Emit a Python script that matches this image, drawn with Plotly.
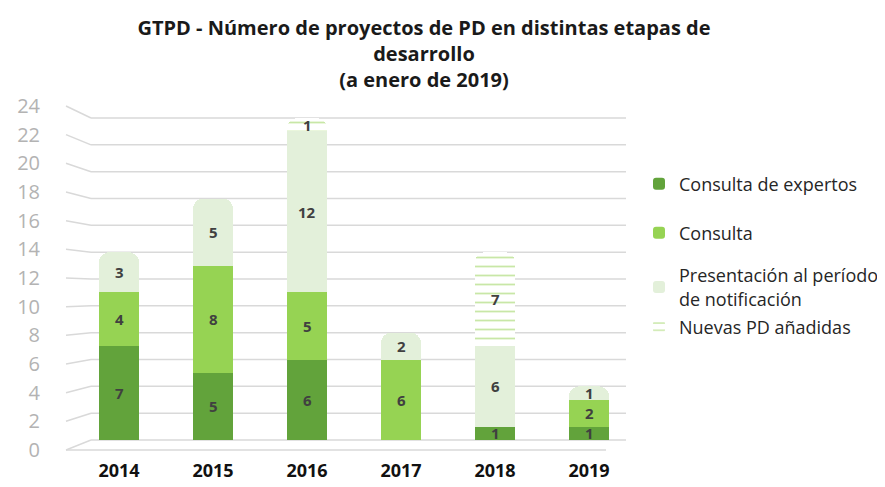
import plotly.graph_objects as go

years = ["2014", "2015", "2016", "2017", "2018", "2019"]
series_names = [
    "Consulta de expertos",
    "Consulta",
    "Presentación al período<br>de notificación",
    "Nuevas PD añadidas",
]
consulta_expertos = [7, 5, 6, 0, 1, 1]
consulta = [4, 8, 5, 6, 0, 2]
presentacion = [3, 5, 12, 2, 6, 1]
nuevas_pd = [0, 0, 1, 0, 7, 0]
y_ticks = list(range(0, 25, 2))

title_text = ("GTPD - Número de proyectos de PD en distintas etapas de<br>"
              "desarrollo<br>(a enero de 2019)")

values = [consulta_expertos, consulta, presentacion, nuevas_pd]
colors = ["#62A33B", "#96D353", "#E3F0DA", "#FFFFFF"]

W, H = 885, 487
L, R, T, B = 58, 250, 98, 45
plot_w = W - L - R
plot_h = H - T - B
# bars sit on the "back wall" which is slightly compressed in the 3D look
bar_dom = [10 / plot_h, (plot_h - 12) / plot_h]

legend_names = ["legend", "legend2", "legend3", "legend4"]
legend_y_px = [176, 225, 279, 319]

fig = go.Figure()
for i, (name, vals, col) in enumerate(zip(series_names, values, colors)):
    marker = dict(color=col, line=dict(width=0))
    if i == 3:
        marker["pattern"] = dict(shape="-", fgcolor="#92D050", bgcolor="#FFFFFF",
                                 size=9, solidity=0.2)
    fig.add_trace(go.Bar(
        x=years, y=vals, name=name, marker=marker,
        width=0.43, xaxis="x", yaxis="y2", legend=legend_names[i],
        hovertemplate="%{x}: %{y}<extra>" + name.replace("<br>", " ") + "</extra>",
    ))

# value labels centred in each stacked segment (x given as category index)
annotations = []
base = [0] * len(years)
for vals in values:
    for j, v in enumerate(vals):
        if v:
            annotations.append(dict(
                x=j, y=base[j] + v / 2, xref="x", yref="y2",
                text=str(v), showarrow=False,
                font=dict(family="Open Sans", size=15, color="#404040", weight="bold"),
            ))
        base[j] += v

# invisible trace to keep the label axis alive
fig.add_trace(go.Scatter(x=[], y=[], xaxis="x", yaxis="y", showlegend=False,
                         hoverinfo="skip"))

shapes = []
gx0, gx1, gx2 = 0.0, 25 / plot_w, 560 / plot_w
for t in y_ticks:
    yf = t / 24
    yg = bar_dom[0] + (bar_dom[1] - bar_dom[0]) * t / 24
    shapes.append(dict(type="line", xref="paper", yref="paper", x0=gx0, y0=yf,
                       x1=gx1, y1=yg, line=dict(color="#D9D9D9", width=1.5)))
    shapes.append(dict(type="line", xref="paper", yref="paper", x0=gx1, y0=yg,
                       x1=gx2, y1=yg, line=dict(color="#D9D9D9", width=1.5)))
shapes.append(dict(type="line", xref="paper", yref="paper", x0=0, y0=0,
                   x1=540 / plot_w, y1=0, line=dict(color="#D9D9D9", width=1.5)))
for s in shapes:
    s["layer"] = "below"

legend_font = dict(family="Open Sans", size=18, color="#262626")
legends = {}
for ln, ypx in zip(legend_names, legend_y_px):
    legends[ln] = dict(x=1 - 4 / plot_w, xanchor="left", y=(H - B - ypx) / plot_h,
                       yanchor="middle", itemwidth=30, font=legend_font,
                       bgcolor="rgba(0,0,0,0)")

fig.update_layout(
    width=W, height=H,
    margin=dict(l=L, r=R, t=T, b=B, autoexpand=False),
    paper_bgcolor="white", plot_bgcolor="rgba(0,0,0,0)",
    barmode="stack", barcornerradius=11,
    title=dict(text=title_text, x=416 / W, xanchor="center", xref="container",
               y=0.945, yanchor="top", yref="container",
               font=dict(family="Open Sans", size=20, color="#1a1a1a", weight="bold")),
    xaxis=dict(type="category", categoryorder="array", categoryarray=years,
               domain=[6 / plot_w, 570 / plot_w], anchor="y", showgrid=False,
               showline=False, zeroline=False, ticks="", ticklabelstandoff=8,
               automargin=False,
               tickfont=dict(family="Open Sans", size=18, color="#111111", weight="bold")),
    yaxis=dict(domain=[0, 1], range=[0, 24], tickvals=y_ticks, showgrid=False,
               zeroline=False, showline=False, ticks="", ticklabelstandoff=26,
               automargin=False,
               tickfont=dict(family="Open Sans", size=20, color="#B3B3B3"),
               anchor="free", position=0),
    yaxis2=dict(domain=bar_dom, range=[0, 24], showgrid=False, zeroline=False,
                showticklabels=False, anchor="x", automargin=False),
    shapes=shapes,
    annotations=annotations,
    showlegend=True,
    **legends,
)

fig.write_html("out.html")
